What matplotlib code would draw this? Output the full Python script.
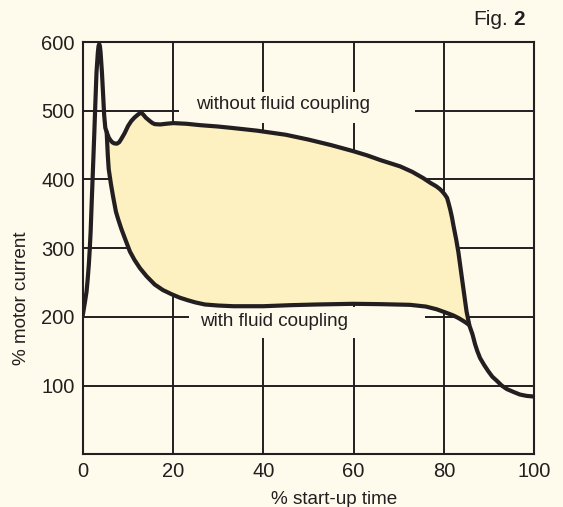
import numpy as np
import matplotlib
matplotlib.use("Agg")
import matplotlib.pyplot as plt
from matplotlib.patches import Rectangle

# ---- data ----
# shared start-up surge (both cases)
rise_x = [0, 0.3, 0.6, 0.9, 1.15, 1.4, 1.6, 1.8, 2.0, 2.2, 2.4, 2.6, 2.85, 3.1,
          3.4, 3.55, 3.7, 3.85, 4.0, 4.3, 4.55, 4.8, 5.05, 5.35]
rise_y = [200, 212, 224, 237, 255, 276, 298, 324, 360, 395, 430, 465, 512, 556,
          585, 594, 597, 594, 585, 556, 525, 493, 475, 469]

# without fluid coupling (upper curve)
without_x = [5.35, 5.8, 6.2, 6.6, 7.0, 7.6, 8.1, 8.5, 9.3, 10.1, 10.8, 11.5, 12.2,
             12.95, 13.5, 14.0, 14.9, 15.5, 16.0, 17.2, 18.5, 20.1, 23, 26, 30,
             33, 38.6, 45, 50, 55, 60, 63, 66, 70.3, 73, 75.4, 77, 78.3, 79.1,
             79.7, 80.2, 80.7, 81.0, 81.4, 81.8, 82.1, 82.7, 83.2, 83.7, 84.2,
             84.6, 85.0, 85.6]
without_y = [469, 461, 457, 454, 452.5, 452, 454, 458, 467, 478, 485, 490, 494,
             497.5, 494, 490, 485, 482, 480.5, 480, 481, 482, 481, 479, 477,
             475, 471, 465, 458, 450, 441, 435, 428, 419, 411, 402, 395, 390,
             386, 382, 378, 373, 366, 356, 344, 333, 313, 294, 270, 246,
             227, 208, 188.5]

# with fluid coupling (lower curve)
with_x = [5.35, 5.6, 5.8, 6.3, 6.8, 7.4, 7.9, 8.6, 9.4, 10.5, 11.5, 12.7, 14.2,
          16.0, 17.8, 19.7, 21.5, 23.4, 25, 27.1, 30, 33.4, 40, 46, 51.8, 59.9,
          66, 72.5, 76, 78.4, 80.5, 82.1, 83.3, 84.3, 85.0, 85.6, 86.3, 86.9,
          87.4, 88.0, 88.9, 89.8, 90.7, 91.7, 92.8, 93.9, 95.3, 96.8, 98.3, 100]
with_y = [469, 435, 415, 393, 374, 353, 342, 328, 314, 295, 283, 271, 259,
          247, 239, 233, 228, 224, 221, 218, 216.5, 215.5, 215.5, 217, 218, 219,
          218.5, 217.5, 215, 211, 206, 202, 198, 194, 191, 188, 175, 160,
          150, 140, 130, 121, 113, 107, 100, 95, 91, 87, 85, 84]

x_ticks = [0, 20, 40, 60, 80, 100]
y_ticks = [100, 200, 300, 400, 500, 600]

label_without = "without fluid coupling"
label_with = "with fluid coupling"

BG = "#fefaec"
FILL = "#fdf0c1"
INK = "#231f20"

plt.rcParams["font.family"] = ["Liberation Sans", "DejaVu Sans"]

W, H = 563, 507
fig = plt.figure(figsize=(W / 100, H / 100), dpi=100, facecolor=BG)
L, R, T, B = 82.5, 534.3, 42.0, 454.3
ax = fig.add_axes([L / W, 1 - B / H, (R - L) / W, (B - T) / H])
ax.set_facecolor(BG)
ax.set_xlim(0, 100)
ax.set_ylim(0, 600)
ax.set_xticks(x_ticks)
ax.set_yticks(y_ticks)
ax.tick_params(length=0, labelsize=14.5, colors=INK, pad=5.5)
ax.set_axisbelow(True)
ax.grid(True, color=INK, lw=1.4)
for s in ax.spines.values():
    s.set_color(INK)
    s.set_linewidth(1.5)

# shaded area between the two curves
wx = np.asarray(with_x)
wy = np.asarray(with_y)
m = wx <= without_x[-1]
poly_x = np.concatenate([without_x, wx[m][::-1]])
poly_y = np.concatenate([without_y, wy[m][::-1]])
ax.fill(poly_x, poly_y, color=FILL, lw=0, zorder=1)

# label background boxes (hide grid behind labels)
ax.add_patch(Rectangle((21.4, 482), 52.1, 44.6, fc=BG, ec="none", zorder=1.5))
ax.add_patch(Rectangle((23.6, 169.4), 52.2, 44.6, fc=BG, ec="none", zorder=1.5))

# curves
kw = dict(color=INK, lw=3.0, solid_joinstyle="round", solid_capstyle="round", zorder=3)
ax.plot(np.concatenate([rise_x, without_x]), np.concatenate([rise_y, without_y]), **kw)
ax.plot(with_x, with_y, **kw)

ax.text(44.3, 502.5, label_without, ha="center", va="baseline", fontsize=13.6,
        color=INK, zorder=4)
ax.text(42.3, 186.5, label_with, ha="center", va="baseline", fontsize=13.6,
        color=INK, zorder=4)

ax.set_xlabel("% start-up time", fontsize=13.6, color=INK)
ax.set_ylabel("% motor current", fontsize=13.6, color=INK)
ax.xaxis.set_label_coords(0.558, -0.088)
ax.yaxis.set_label_coords(-0.116, 0.378)

fig.text(508 / W, 1 - 25 / H, "Fig.", ha="right", va="baseline", fontsize=15, color=INK)
fig.text(513 / W, 1 - 25 / H, "2", ha="left", va="baseline", fontsize=15,
         fontweight="bold", color=INK)

fig.savefig("out.png", dpi=100, facecolor=BG)
